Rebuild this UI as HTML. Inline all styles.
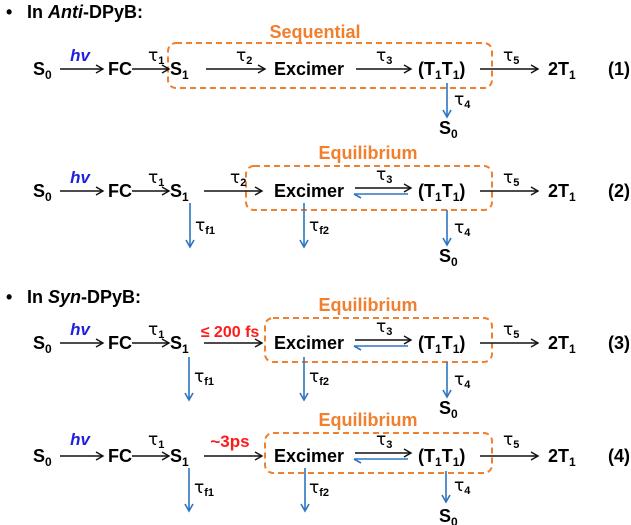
<!DOCTYPE html>
<html><head><meta charset="utf-8"><style>
html,body{margin:0;padding:0;background:#fff;}
svg{display:block;font-family:"Liberation Sans",Arial,sans-serif;font-weight:bold;}
</style></head><body>
<svg width="631" height="525" viewBox="0 0 631 525" xmlns="http://www.w3.org/2000/svg">
<defs>
<marker id="a" markerWidth="10" markerHeight="10" refX="8" refY="5" orient="auto" markerUnits="userSpaceOnUse"><polyline points="1,1 8,5 1,9" fill="none" stroke="#111" stroke-width="1.4"/></marker>
<marker id="b" markerWidth="10" markerHeight="10" refX="8" refY="5" orient="auto" markerUnits="userSpaceOnUse"><polyline points="1,1 8,5 1,9" fill="none" stroke="#2e75c0" stroke-width="1.6"/></marker>
<marker id="h" markerWidth="10" markerHeight="10" refX="8" refY="5" orient="auto" markerUnits="userSpaceOnUse"><polyline points="1,1 8,5" fill="none" stroke="#2e75c0" stroke-width="1.6"/></marker>
</defs>
<g font-size="18" fill="#000">
<text x="6" y="18">•</text><text x="27" y="18">In <tspan font-style="italic">Anti</tspan>-DPyB:</text>
<text x="6" y="303">•</text><text x="27" y="303">In <tspan font-style="italic">Syn</tspan>-DPyB:</text>
</g>

<g font-size="18">
<g stroke-dasharray="6,4" fill="none" stroke="#f07f2e" stroke-width="2"><rect x="168" y="43" width="324" height="45" rx="8"/></g>
<text x="315" y="38" fill="#f07f2e" text-anchor="middle" font-size="18">Sequential</text>
</g>
<g font-size="18" fill="#f07f2e" text-anchor="middle">
<text x="368" y="159">Equilibrium</text>
<text x="368" y="311">Equilibrium</text>
<text x="368" y="426">Equilibrium</text>
</g>
<g fill="none" stroke="#f07f2e" stroke-width="2" stroke-dasharray="6,4">
<rect x="246" y="166" width="246" height="44" rx="8"/>
<rect x="265" y="318" width="227" height="44" rx="8"/>
<rect x="265" y="433" width="227" height="40" rx="8"/>
</g>

<!-- Row 1 y=69 -->
<g font-size="18">
<text x="33" y="75">S<tspan font-size="12" dy="4">0</tspan></text>
<text x="108" y="75">FC</text>
<text x="170" y="75">S<tspan font-size="12" dy="4">1</tspan></text>
<text x="274" y="75">Excimer</text>
<text x="418" y="75">(T<tspan font-size="12" dy="4">1</tspan><tspan dy="-4">T</tspan><tspan font-size="12" dy="4">1</tspan><tspan dy="-4">)</tspan></text>
<text x="548" y="75">2T<tspan font-size="12" dy="4">1</tspan></text>
<text x="608" y="75">(1)</text>
<text x="439" y="134">S<tspan font-size="12" dy="4">0</tspan></text>
</g>
<g stroke="#111" stroke-width="1.4" marker-end="url(#a)">
<line x1="60" y1="69" x2="103" y2="69"/><line x1="132" y1="69" x2="169" y2="69"/>
<line x1="206" y1="69" x2="265" y2="69"/><line x1="356" y1="69" x2="411" y2="69"/>
<line x1="480" y1="69" x2="538" y2="69"/>
</g>
<line x1="447" y1="83" x2="447" y2="117" stroke="#2e75c0" stroke-width="1.6" marker-end="url(#b)"/>
<g font-size="17" font-family="'DejaVu Sans',sans-serif" font-weight="normal">
<text x="80" y="61" fill="#2020e0" font-family="Liberation Sans" font-weight="bold" font-style="italic" text-anchor="middle">hv</text>
<text x="148" y="61">τ<tspan font-size="11" dy="3" font-family="Liberation Sans" font-weight="bold">1</tspan></text>
<text x="236" y="61">τ<tspan font-size="11" dy="3" font-family="Liberation Sans" font-weight="bold">2</tspan></text>
<text x="376" y="61">τ<tspan font-size="11" dy="3" font-family="Liberation Sans" font-weight="bold">3</tspan></text>
<text x="503" y="61">τ<tspan font-size="11" dy="3" font-family="Liberation Sans" font-weight="bold">5</tspan></text>
<text x="454" y="105">τ<tspan font-size="11" dy="3" font-family="Liberation Sans" font-weight="bold">4</tspan></text>
</g>

<!-- Row 2 y=191 -->
<g transform="translate(0,122)">
<g font-size="18">
<text x="33" y="75">S<tspan font-size="12" dy="4">0</tspan></text>
<text x="108" y="75">FC</text>
<text x="170" y="75">S<tspan font-size="12" dy="4">1</tspan></text>
<text x="274" y="75">Excimer</text>
<text x="418" y="75">(T<tspan font-size="12" dy="4">1</tspan><tspan dy="-4">T</tspan><tspan font-size="12" dy="4">1</tspan><tspan dy="-4">)</tspan></text>
<text x="548" y="75">2T<tspan font-size="12" dy="4">1</tspan></text>
<text x="608" y="75">(2)</text>
<text x="439" y="140">S<tspan font-size="12" dy="4">0</tspan></text>
</g>
<g stroke="#111" stroke-width="1.4" marker-end="url(#a)">
<line x1="60" y1="69" x2="103" y2="69"/><line x1="132" y1="69" x2="169" y2="69"/>
<line x1="204" y1="69" x2="262" y2="69"/><line x1="355" y1="66" x2="411" y2="66"/>
<line x1="480" y1="69" x2="538" y2="69"/>
</g>
<line x1="408" y1="72" x2="354" y2="72" stroke="#2e75c0" stroke-width="1.6" marker-end="url(#h)"/>
<g stroke="#2e75c0" stroke-width="1.6" marker-end="url(#b)">
<line x1="447" y1="88" x2="447" y2="123"/><line x1="190" y1="81" x2="190" y2="125"/><line x1="304" y1="81" x2="304" y2="125"/>
</g>
<g font-size="17" font-family="'DejaVu Sans',sans-serif" font-weight="normal">
<text x="80" y="61" fill="#2020e0" font-family="Liberation Sans" font-weight="bold" font-style="italic" text-anchor="middle">hv</text>
<text x="148" y="61">τ<tspan font-size="11" dy="3" font-family="Liberation Sans" font-weight="bold">1</tspan></text>
<text x="230" y="61">τ<tspan font-size="11" dy="3" font-family="Liberation Sans" font-weight="bold">2</tspan></text>
<text x="376" y="58">τ<tspan font-size="11" dy="3" font-family="Liberation Sans" font-weight="bold">3</tspan></text>
<text x="503" y="61">τ<tspan font-size="11" dy="3" font-family="Liberation Sans" font-weight="bold">5</tspan></text>
<text x="454" y="111">τ<tspan font-size="11" dy="3" font-family="Liberation Sans" font-weight="bold">4</tspan></text>
<text x="195" y="109">τ<tspan font-size="11" dy="3" font-family="Liberation Sans" font-weight="bold">f1</tspan></text>
<text x="309" y="109">τ<tspan font-size="11" dy="3" font-family="Liberation Sans" font-weight="bold">f2</tspan></text>
</g>
</g>

<!-- Row 3 y=343 -->
<g transform="translate(0,274)">
<g font-size="18">
<text x="33" y="75">S<tspan font-size="12" dy="4">0</tspan></text>
<text x="108" y="75">FC</text>
<text x="170" y="75">S<tspan font-size="12" dy="4">1</tspan></text>
<text x="274" y="75">Excimer</text>
<text x="418" y="75">(T<tspan font-size="12" dy="4">1</tspan><tspan dy="-4">T</tspan><tspan font-size="12" dy="4">1</tspan><tspan dy="-4">)</tspan></text>
<text x="548" y="75">2T<tspan font-size="12" dy="4">1</tspan></text>
<text x="608" y="75">(3)</text>
<text x="439" y="140">S<tspan font-size="12" dy="4">0</tspan></text>
<text x="230" y="63" fill="#ff1a1a" text-anchor="middle" font-size="16">≤ 200 fs</text>
</g>
<g stroke="#111" stroke-width="1.4" marker-end="url(#a)">
<line x1="60" y1="69" x2="103" y2="69"/><line x1="132" y1="69" x2="169" y2="69"/>
<line x1="204" y1="69" x2="262" y2="69"/><line x1="355" y1="66" x2="411" y2="66"/>
<line x1="480" y1="69" x2="538" y2="69"/>
</g>
<line x1="408" y1="72" x2="354" y2="72" stroke="#2e75c0" stroke-width="1.6" marker-end="url(#h)"/>
<g stroke="#2e75c0" stroke-width="1.6" marker-end="url(#b)">
<line x1="447" y1="88" x2="447" y2="123"/><line x1="189" y1="83" x2="189" y2="126"/><line x1="304" y1="83" x2="304" y2="126"/>
</g>
<g font-size="17" font-family="'DejaVu Sans',sans-serif" font-weight="normal">
<text x="80" y="61" fill="#2020e0" font-family="Liberation Sans" font-weight="bold" font-style="italic" text-anchor="middle">hv</text>
<text x="148" y="61">τ<tspan font-size="11" dy="3" font-family="Liberation Sans" font-weight="bold">1</tspan></text>
<text x="376" y="58">τ<tspan font-size="11" dy="3" font-family="Liberation Sans" font-weight="bold">3</tspan></text>
<text x="503" y="61">τ<tspan font-size="11" dy="3" font-family="Liberation Sans" font-weight="bold">5</tspan></text>
<text x="454" y="111">τ<tspan font-size="11" dy="3" font-family="Liberation Sans" font-weight="bold">4</tspan></text>
<text x="194" y="108">τ<tspan font-size="11" dy="3" font-family="Liberation Sans" font-weight="bold">f1</tspan></text>
<text x="309" y="108">τ<tspan font-size="11" dy="3" font-family="Liberation Sans" font-weight="bold">f2</tspan></text>
</g>
</g>

<!-- Row 4 y=456 -->
<g transform="translate(0,387)">
<g font-size="18">
<text x="33" y="75">S<tspan font-size="12" dy="4">0</tspan></text>
<text x="108" y="75">FC</text>
<text x="170" y="75">S<tspan font-size="12" dy="4">1</tspan></text>
<text x="274" y="75">Excimer</text>
<text x="418" y="75">(T<tspan font-size="12" dy="4">1</tspan><tspan dy="-4">T</tspan><tspan font-size="12" dy="4">1</tspan><tspan dy="-4">)</tspan></text>
<text x="548" y="75">2T<tspan font-size="12" dy="4">1</tspan></text>
<text x="608" y="75">(4)</text>
<text x="439" y="135">S<tspan font-size="12" dy="4">0</tspan></text>
<text x="230" y="60" fill="#ff1a1a" text-anchor="middle" font-size="17">~3ps</text>
</g>
<g stroke="#111" stroke-width="1.4" marker-end="url(#a)">
<line x1="60" y1="69" x2="103" y2="69"/><line x1="132" y1="69" x2="169" y2="69"/>
<line x1="204" y1="69" x2="262" y2="69"/><line x1="355" y1="66" x2="411" y2="66"/>
<line x1="480" y1="69" x2="538" y2="69"/>
</g>
<line x1="408" y1="72" x2="354" y2="72" stroke="#2e75c0" stroke-width="1.6" marker-end="url(#h)"/>
<g stroke="#2e75c0" stroke-width="1.6" marker-end="url(#b)">
<line x1="446" y1="84" x2="446" y2="115"/><line x1="189" y1="81" x2="189" y2="124"/><line x1="305" y1="81" x2="305" y2="124"/>
</g>
<g font-size="17" font-family="'DejaVu Sans',sans-serif" font-weight="normal">
<text x="80" y="58" fill="#2020e0" font-family="Liberation Sans" font-weight="bold" font-style="italic" text-anchor="middle">hv</text>
<text x="148" y="58">τ<tspan font-size="11" dy="3" font-family="Liberation Sans" font-weight="bold">1</tspan></text>
<text x="376" y="58">τ<tspan font-size="11" dy="3" font-family="Liberation Sans" font-weight="bold">3</tspan></text>
<text x="503" y="58">τ<tspan font-size="11" dy="3" font-family="Liberation Sans" font-weight="bold">5</tspan></text>
<text x="454" y="104">τ<tspan font-size="11" dy="3" font-family="Liberation Sans" font-weight="bold">4</tspan></text>
<text x="194" y="106">τ<tspan font-size="11" dy="3" font-family="Liberation Sans" font-weight="bold">f1</tspan></text>
<text x="309" y="106">τ<tspan font-size="11" dy="3" font-family="Liberation Sans" font-weight="bold">f2</tspan></text>
</g>
</g>
</svg>
</body></html>
